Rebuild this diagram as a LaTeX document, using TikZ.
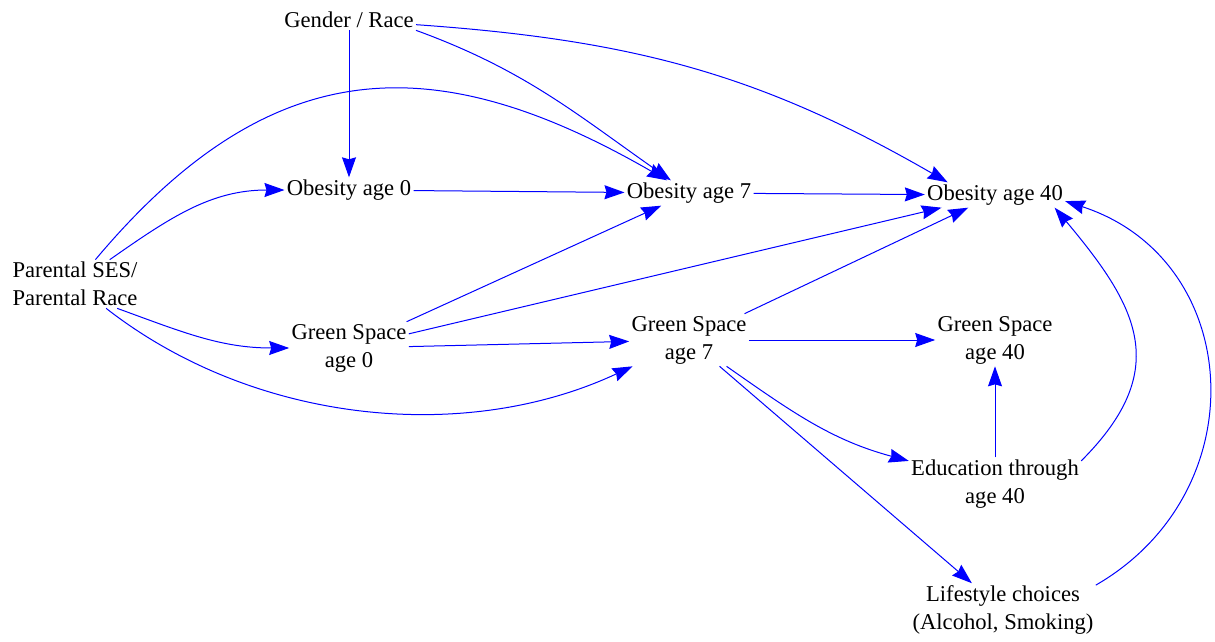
\documentclass[tikz,border=0pt]{standalone}
\usepackage{fontspec}
\setmainfont{Liberation Serif}
\usetikzlibrary{arrows.meta}
\tikzstyle{factor} = [rectangle, align=center, inner sep=1pt, font=\fontsize{11.3}{14}\selectfont]
\tikzstyle{arrow} = [blue, line width=0.5pt, -{Stealth[length=10pt,width=7pt,inset=1pt]}]

\begin{document}
\begin{tikzpicture}[node distance=85pt]

\useasboundingbox (0,0) rectangle (607.5pt,-321pt);

\node (gender) [factor] at (174.5pt,-10pt) {Gender / Race};
\node (obes0) [factor, below of=gender] {Obesity age 0};
\node (obes7) [factor, right of=obes0, xshift=85pt, yshift=-1.5pt] {Obesity age 7};
\node (obes40) [factor, right of=obes7, xshift=68pt, yshift=-1pt] {Obesity age 40};

\node (green0) [factor, below of=obes0, yshift=6pt] {Green Space\\age 0};
\node (parent) [factor, left of=green0, xshift=-52pt, yshift=32pt] {Parental SES/\\Parental Race};
\node (green7) [factor, right of=green0, xshift=85pt, yshift=4pt] {Green Space\\age 7};
\node (green40) [factor, right of=green7, xshift=68pt] {Green Space\\age 40};
\node (educ) [factor, below of=green40, yshift=13pt] {Education through\\age 40};
\node (life) [factor, below of=educ, xshift=4pt, yshift=22pt] {Lifestyle choices\\(Alcohol, Smoking)};

\draw [arrow] (gender) -- (obes0);
\draw [arrow] (gender.south east) to [out=-20, in=145] (obes7);
\draw [arrow] (gender) to [out=-4, in=150] (obes40.165);

\draw [arrow] (parent) to [out=35, in=180] (obes0);
\draw [arrow] (parent) to [out=50, in=150, looseness=1.2] (obes7);
\draw [arrow] (parent.-30) to [out=-20, in=180] (green0);
\draw [arrow] (parent) to [out=-38, in=205, looseness=0.9] (green7);

\draw [arrow] (obes0) -- (obes7);
\draw [arrow] (obes7) -- (obes40);

\draw [arrow] (green0) -- (obes7);
\draw [arrow] (green0) -- (obes40);
\draw [arrow] (green0) -- (green7);

\draw [arrow] (green7) -- (obes40);
\draw [arrow] (green7) -- (green40);
\draw [arrow] (green7) to [out=-35, in=165] (educ);
\draw [arrow] (green7) -- (life);

\draw [arrow] (educ) -- (green40);
\draw [arrow] (educ.15) to [out=45, in=-50, looseness=1.3] (obes40.-12);
\draw [arrow] (life.15) to [out=30, in=-18, looseness=1.25] (obes40.-5);

\end{tikzpicture}
\end{document}
